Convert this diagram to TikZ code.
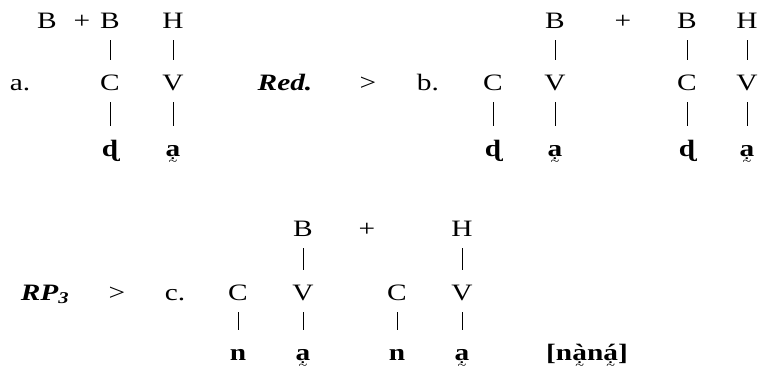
\documentclass[tikz,border=0pt]{standalone}
\usepackage{fontspec}
\setmainfont{Liberation Serif}[FakeStretch=1.25]
\newcommand\fsz{\fontsize{23.5}{28}\selectfont}
\newcommand\dta[1]{\ooalign{#1\cr\hidewidth\raisebox{-3pt}{\fontsize{13}{13}\selectfont.}\hidewidth\cr\hidewidth\raisebox{-9.5pt}{\mdseries\fontsize{13}{13}\selectfont\char"007E}\hidewidth\cr}}
\begin{document}
\begin{tikzpicture}[x=1pt,y=-1pt,
  lab/.style={inner sep=0pt,text height=16pt,text depth=0pt,font=\fsz},
  seg/.style={lab,font=\bfseries\fsz},
  itl/.style={lab,font=\bfseries\itshape\fsz},
  bar/.style={line width=1pt,shorten <=12pt,shorten >=14pt}]
\useasboundingbox (0,0) rectangle (762,370);
% a.
\node[lab] (aB1) at (47,20) {B};
\node[lab] (aplus) at (82,20) {+};
\node[lab] (aB2) at (110,20) {B};
\node[lab] (aH) at (173,20) {H};
\node[lab] (alab) at (20,82) {a.};
\node[lab] (aC) at (110,82) {C};
\node[lab] (aV) at (173,82) {V};
\node[seg] (ad) at (110,148) {ɖ};
\node[seg] (aa) at (173,148) {\dta{a}};
\draw[bar] (aB2) -- (aC);
\draw[bar] (aH) -- (aV);
\draw[bar] (aC) -- (ad);
\draw[bar] (aV) -- (aa);
% Red. >
\node[itl] (red) at (285,82) {Red.};
\node[lab] (gt1) at (368,82) {>};
% b.
\node[lab] (blab) at (428,82) {b.};
\node[lab] (bC1) at (493,82) {C};
\node[lab] (bB1) at (555,20) {B};
\node[lab] (bV1) at (555,82) {V};
\node[lab] (bplus) at (623,20) {+};
\node[lab] (bB2) at (687,20) {B};
\node[lab] (bC2) at (687,82) {C};
\node[lab] (bH) at (747,20) {H};
\node[lab] (bV2) at (747,82) {V};
\node[seg] (bd1) at (493,148) {ɖ};
\node[seg] (ba1) at (555,148) {\dta{a}};
\node[seg] (bd2) at (687,148) {ɖ};
\node[seg] (ba2) at (747,148) {\dta{a}};
\draw[bar] (bB1) -- (bV1);
\draw[bar] (bB2) -- (bC2);
\draw[bar] (bH) -- (bV2);
\draw[bar] (bC1) -- (bd1);
\draw[bar] (bV1) -- (ba1);
\draw[bar] (bC2) -- (bd2);
\draw[bar] (bV2) -- (ba2);
% RP3 > c.
\node[itl] (rp) at (45,292) {RP\textsubscript{3}};
\node[lab] (gt2) at (117,292) {>};
\node[lab] (clab) at (175,292) {c.};
\node[lab] (cC1) at (238,292) {C};
\node[lab] (cB) at (303,228) {B};
\node[lab] (cV1) at (303,292) {V};
\node[lab] (cplus) at (367,228) {+};
\node[lab] (cC2) at (397,292) {C};
\node[lab] (cH) at (462,228) {H};
\node[lab] (cV2) at (462,292) {V};
\node[seg] (cn1) at (238,352) {n};
\node[seg] (ca1) at (303,352) {\dta{a}};
\node[seg] (cn2) at (397,352) {n};
\node[seg] (ca2) at (462,352) {\dta{a}};
\node[seg] (form) at (587,352) {[n\dta{à}n\dta{á}]};
\draw[bar] (cB) -- (cV1);
\draw[bar] (cH) -- (cV2);
\draw[bar] (cC1) -- (cn1);
\draw[bar] (cV1) -- (ca1);
\draw[bar] (cC2) -- (cn2);
\draw[bar] (cV2) -- (ca2);
\end{tikzpicture}
\end{document}
